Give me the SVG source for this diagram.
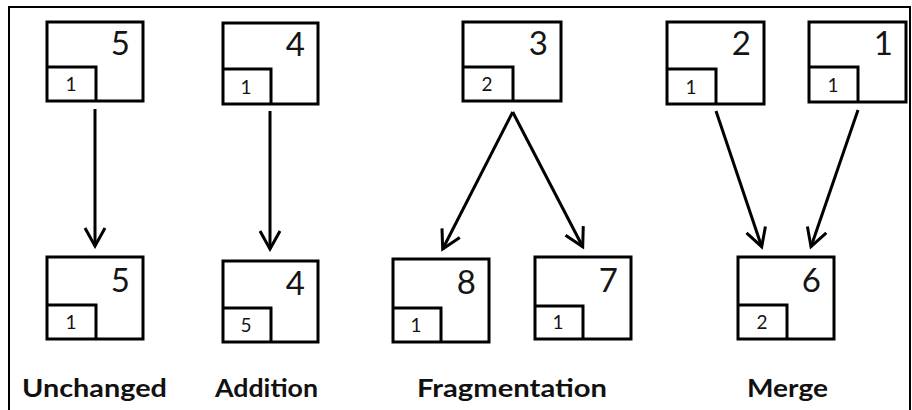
<svg xmlns="http://www.w3.org/2000/svg" width="912" height="410" viewBox="0 0 912 410">
<style>
.box{fill:#fff;stroke:#000;stroke-width:3}
.inner{fill:none;stroke:#000;stroke-width:3}
.big{font-family:Lato,"Open Sans",sans-serif;font-size:33px;fill:#151515;text-anchor:end}
.small{font-family:Lato,"Open Sans",sans-serif;font-size:19px;fill:#151515;text-anchor:middle}
.lbl{font-family:Lato,"Open Sans",sans-serif;font-weight:bold;font-size:24px;fill:#111}
.conn{stroke:#000;stroke-width:3;fill:none;marker-end:url(#chev)}
</style>
<defs>
<marker id="chev" markerUnits="userSpaceOnUse" viewBox="-22 -13 25 26" markerWidth="25" markerHeight="26" refX="0" refY="0" orient="auto">
<path d="M-18,-10 L0,0 L-18,10" fill="none" stroke="#000" stroke-width="3"/>
</marker>
</defs>
<rect width="912" height="410" fill="#fff"/>
<path d="M9,410 V7 H910 V410" fill="none" stroke="#000" stroke-width="2"/>

<g id="top-5">
<rect class="box" x="47" y="22" width="96" height="79"/>
<path class="inner" d="M47,67 H96 V101"/>
<text class="big" x="130" y="55">5</text>
<text class="small" x="71" y="91">1</text>
</g>
<g id="top-4">
<rect class="box" x="223" y="23" width="95" height="81"/>
<path class="inner" d="M223,69 H271 V104"/>
<text class="big" x="305" y="56">4</text>
<text class="small" x="246" y="94">1</text>
</g>
<g id="top-3">
<rect class="box" x="463" y="22" width="98" height="79"/>
<path class="inner" d="M463,67 H513 V101"/>
<text class="big" x="548" y="55">3</text>
<text class="small" x="487" y="91">2</text>
</g>
<g id="top-2">
<rect class="box" x="667" y="22" width="97" height="82"/>
<path class="inner" d="M667,69 H716 V104"/>
<text class="big" x="751" y="55">2</text>
<text class="small" x="691" y="94">1</text>
</g>
<g id="top-1">
<rect class="box" x="809" y="22" width="97" height="80"/>
<path class="inner" d="M809,67 H858 V102"/>
<text class="big" x="893" y="55">1</text>
<text class="small" x="833" y="92">1</text>
</g>

<g id="bot-5">
<rect class="box" x="47" y="257" width="96" height="82"/>
<path class="inner" d="M47,305 H96 V339"/>
<text class="big" x="130" y="292">5</text>
<text class="small" x="71" y="329">1</text>
</g>
<g id="bot-4">
<rect class="box" x="223" y="261" width="95" height="81"/>
<path class="inner" d="M223,308 H271 V342"/>
<text class="big" x="305" y="295">4</text>
<text class="small" x="246" y="332">5</text>
</g>
<g id="bot-8">
<rect class="box" x="393" y="259" width="96" height="83"/>
<path class="inner" d="M393,308 H441 V342"/>
<text class="big" x="476" y="294">8</text>
<text class="small" x="416" y="332">1</text>
</g>
<g id="bot-7">
<rect class="box" x="535" y="257" width="96" height="82"/>
<path class="inner" d="M535,306 H583 V339"/>
<text class="big" x="618" y="292">7</text>
<text class="small" x="558" y="329">1</text>
</g>
<g id="bot-6">
<rect class="box" x="738" y="257" width="96" height="82"/>
<path class="inner" d="M738,305 H787 V339"/>
<text class="big" x="821" y="292">6</text>
<text class="small" x="762" y="329">2</text>
</g>

<g id="connectors">
<line class="conn" x1="95" y1="109" x2="95" y2="246"/>
<line class="conn" x1="270" y1="111" x2="270" y2="249"/>
<line class="conn" x1="512.7" y1="112" x2="442.7" y2="249"/>
<line class="conn" x1="512.7" y1="112" x2="582.7" y2="246.7"/>
<line class="conn" x1="716" y1="111" x2="761.7" y2="246.7"/>
<line class="conn" x1="858" y1="110" x2="811" y2="246.7"/>
</g>

<g id="labels">
<text class="lbl" x="22" y="397" textLength="145" lengthAdjust="spacingAndGlyphs">Unchanged</text>
<text class="lbl" x="215" y="397" textLength="103" lengthAdjust="spacingAndGlyphs">Addition</text>
<text class="lbl" x="417" y="397" textLength="190" lengthAdjust="spacingAndGlyphs">Fragmentation</text>
<text class="lbl" x="747" y="397" textLength="81" lengthAdjust="spacingAndGlyphs">Merge</text>
</g>
</svg>
